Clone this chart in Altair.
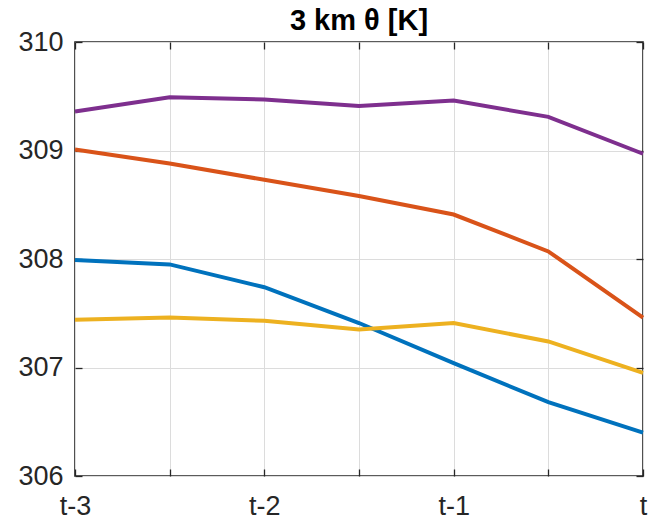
import altair as alt
import pandas as pd

# ---- data ----
x_steps = [0, 1, 2, 3, 4, 5, 6]
x_tick_labels = ["t-3", "", "t-2", "", "t-1", "", "t"]
series_names = ["A", "B", "C", "D"]
series_colors = ["#0072BD", "#D95319", "#EDB120", "#7E2F8E"]

blue_vals = [307.99, 307.95, 307.74, 307.41, 307.04, 306.68, 306.40]
orange_vals = [309.01, 308.88, 308.73, 308.58, 308.41, 308.07, 307.46]
yellow_vals = [307.44, 307.46, 307.43, 307.35, 307.41, 307.24, 306.95]
purple_vals = [309.36, 309.49, 309.47, 309.41, 309.46, 309.31, 308.97]

y_ticks = [306, 307, 308, 309, 310]

rows = []
for name, vals in zip(series_names, [blue_vals, orange_vals, yellow_vals, purple_vals]):
    for xi, v in zip(x_steps, vals):
        rows.append({"series": name, "step": xi, "value": v})
df = pd.DataFrame(rows)

label_expr = "[" + ",".join("'" + s + "'" for s in x_tick_labels) + "][datum.value]"

FONT = "Liberation Sans"
DARK = "#262626"

xscale = alt.Scale(domain=[0, 6], nice=False, zero=False)
yscale = alt.Scale(domain=[306, 310], nice=False, zero=False)

main_x_axis = alt.Axis(
    orient="bottom", values=x_steps, labelExpr=label_expr, ticks=False, domain=False,
    grid=True, gridColor="#dcdcdc", gridWidth=1, labelFont=FONT, labelFontSize=27,
    labelColor=DARK, labelPadding=17, title=None, labelFlush=False, labelOverlap=False,
)
main_y_axis = alt.Axis(
    orient="left", values=y_ticks, ticks=False, domain=False, grid=True,
    gridColor="#dcdcdc", gridWidth=1, labelFont=FONT, labelFontSize=27,
    labelColor=DARK, labelPadding=12, title=None, labelFlush=False, format="d",
)

def tick_axis(orient, values):
    return alt.Axis(
        orient=orient, values=values, ticks=True, tickSize=7, tickColor=DARK,
        tickWidth=1.3, offset=-7, labels=False, domain=False, grid=False, title=None,
    )

base = alt.Chart(df)

lines = base.mark_line(strokeWidth=4).encode(
    x=alt.X("step:Q", scale=xscale, axis=main_x_axis),
    y=alt.Y("value:Q", scale=yscale, axis=main_y_axis),
    color=alt.Color("series:N", scale=alt.Scale(domain=series_names, range=series_colors), legend=None),
    detail="series:N",
)

ticks_tr = base.mark_line(opacity=0).encode(
    x=alt.X("step:Q", scale=xscale, axis=tick_axis("top", x_steps)),
    y=alt.Y("value:Q", scale=yscale, axis=tick_axis("right", y_ticks)),
    detail="series:N",
)
ticks_bl = base.mark_line(opacity=0).encode(
    x=alt.X("step:Q", scale=xscale, axis=tick_axis("bottom", x_steps)),
    y=alt.Y("value:Q", scale=yscale, axis=tick_axis("left", y_ticks)),
    detail="series:N",
)

chart = (
    alt.layer(lines, ticks_tr, ticks_bl)
    .resolve_axis(x="independent", y="independent")
    .properties(
        width=568,
        height=434,
        autosize=alt.AutoSizeParams(type="none"),
        padding={"left": 75, "top": 42, "right": 11, "bottom": 51},
        background="white",
        title=alt.TitleParams(
            "3 km θ [K]", font=FONT, fontSize=29, fontWeight="bold", color="#000000",
            anchor="middle", offset=-8,
        ),
    )
    .configure_view(stroke=DARK, strokeWidth=1.6)
)

chart.save("out.html", embed_options={"renderer": "svg", "actions": False})
